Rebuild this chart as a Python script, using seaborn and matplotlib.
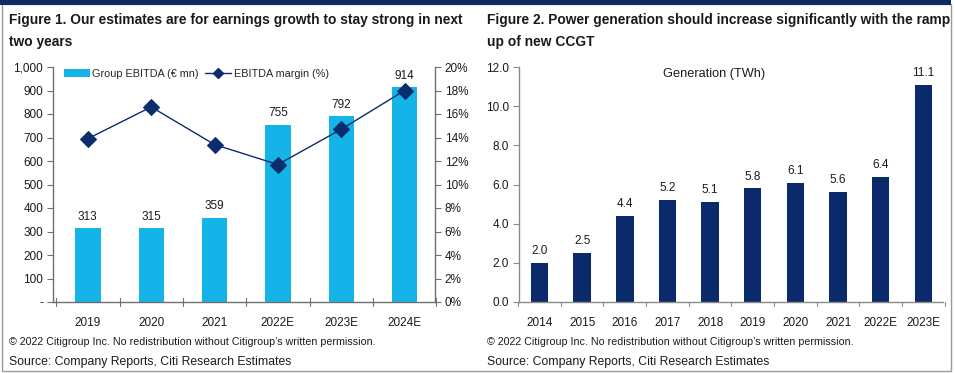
import numpy as np
import pandas as pd
import matplotlib
matplotlib.use("Agg")
import matplotlib.pyplot as plt
import seaborn as sns
from matplotlib.patches import Patch, Rectangle
from matplotlib.lines import Line2D
from matplotlib.ticker import FuncFormatter, MultipleLocator

# ---- data ----
ebitda_years = ["2019", "2020", "2021", "2022E", "2023E", "2024E"]
ebitda_values = [313, 315, 359, 755, 792, 914]
ebitda_margin = [13.9, 16.6, 13.4, 11.7, 14.7, 18.0]

gen_years = ["2014", "2015", "2016", "2017", "2018", "2019", "2020", "2021", "2022E", "2023E"]
gen_values = [2.0, 2.5, 4.4, 5.2, 5.1, 5.8, 6.1, 5.6, 6.4, 11.1]

title1 = "Figure 1. Our estimates are for earnings growth to stay strong in next\ntwo years"
title2 = "Figure 2. Power generation should increase significantly with the ramp\nup of new CCGT"
copyright_txt = "\u00a9 2022 Citigroup Inc. No redistribution without Citigroup\u2019s written permission."
source_txt = "Source: Company Reports, Citi Research Estimates"

sns.set_theme(style="white")
plt.rcParams["font.family"] = ["Liberation Sans", "DejaVu Sans"]

LIGHT = "#14b4e8"
NAVY = "#0b2d6e"
NAVY_BAR = "#0a2a6c"
SPINE = "#707070"
TXT = "#1a1a1a"

W, H = 955, 373
fig = plt.figure(figsize=(W / 100, H / 100), dpi=100)

def fx(px):
    return px / W

def fy(py):
    return 1 - py / H

# frame and top band
fig.patches.append(Rectangle((fx(2), fy(371)), fx(951) - fx(2), fy(4) - fy(371),
                             transform=fig.transFigure, fill=False, edgecolor="#9a9a9a", lw=1.0))
fig.patches.append(Rectangle((0, fy(4.5)), fx(951), fy(0) - fy(4.5),
                             transform=fig.transFigure, facecolor="#0c2b63", edgecolor="none"))

# ---------------- left panel ----------------
ax1 = fig.add_axes([fx(53), fy(302), fx(435) - fx(53), fy(67) - fy(302)])
df1 = pd.DataFrame({"year": ebitda_years, "ebitda": ebitda_values})
sns.barplot(data=df1, x="year", y="ebitda", ax=ax1, color=LIGHT, width=0.4,
            saturation=1, edgecolor="none")
ax1.set_ylim(0, 1000)
ax1.yaxis.set_major_locator(MultipleLocator(100))
ax1.yaxis.set_major_formatter(FuncFormatter(lambda v, p: "-" if v == 0 else f"{int(v):,}"))
for i, v in enumerate(ebitda_values):
    ax1.text(i, v + 22, f"{v}", ha="center", va="bottom", fontsize=8.5, color=TXT)

ax2 = ax1.twinx()
sns.pointplot(x=ebitda_years, y=ebitda_margin, ax=ax2, color=NAVY, markers="D",
              markersize=8.5, linewidth=1.0)
ax2.set_ylim(0, 20)
ax2.yaxis.set_major_locator(MultipleLocator(2))
ax2.yaxis.set_major_formatter(FuncFormatter(lambda v, p: f"{int(round(v))}%"))
ax1.set_xlim(-0.55, 5.48)
ax2.set_xlim(-0.55, 5.48)

for a in (ax1, ax2):
    a.set_xlabel("")
    a.set_ylabel("")
    for s in a.spines.values():
        s.set_visible(False)
ax1.spines["left"].set_visible(True)
ax1.spines["bottom"].set_visible(True)
ax2.spines["right"].set_visible(True)
for s in (ax1.spines["left"], ax1.spines["bottom"], ax2.spines["right"]):
    s.set_color(SPINE)
    s.set_linewidth(1.0)

ax1.tick_params(axis="y", left=True, length=4, width=0.8, color=SPINE, labelsize=8.5, labelcolor=TXT, pad=3)
ax2.tick_params(axis="y", right=True, length=4, width=0.8, color=SPINE, labelsize=8.5, labelcolor=TXT, pad=3)
ax1.set_xticks(range(len(ebitda_years)))
ax1.set_xticklabels(ebitda_years)
ax1.tick_params(axis="x", bottom=False, labelsize=8.5, labelcolor=TXT, pad=5)
for b in np.arange(-0.5, len(ebitda_years) + 0.5, 1.0):
    ax1.plot([b, b], [-0.018, 0.018], transform=ax1.get_xaxis_transform(), color=SPINE,
             lw=0.8, clip_on=False)

handles = [Patch(facecolor=LIGHT, edgecolor="none"),
           Line2D([], [], color=NAVY, marker="D", markersize=5.5, lw=1.0)]
leg = ax1.legend(handles, ["Group EBITDA (\u20ac mn)", "EBITDA margin (%)"], ncol=2,
                 loc="upper left", bbox_to_anchor=(0.018, 1.012), frameon=False,
                 fontsize=7.8, handlelength=2.4, handleheight=0.8, columnspacing=0.6,
                 handletextpad=0.2, borderaxespad=0)

fig.text(fx(9), fy(13), title1, ha="left", va="top", fontsize=9.9, fontweight="bold",
         color=TXT, linespacing=1.75)
fig.text(fx(9), fy(342), copyright_txt, ha="left", va="center", fontsize=7.7, color=TXT)
fig.text(fx(9), fy(362), source_txt, ha="left", va="center", fontsize=8.8, color=TXT)

# ---------------- right panel ----------------
ax3 = fig.add_axes([fx(519), fy(302), fx(943) - fx(519), fy(67) - fy(302)])
df2 = pd.DataFrame({"year": gen_years, "gen": gen_values})
sns.barplot(data=df2, x="year", y="gen", ax=ax3, color=NAVY_BAR, width=0.41,
            saturation=1, edgecolor="none")
ax3.set_ylim(0, 12)
ax3.set_xlim(-0.48, 9.46)
ax3.yaxis.set_major_locator(MultipleLocator(2))
ax3.yaxis.set_major_formatter(FuncFormatter(lambda v, p: f"{v:.1f}"))
for i, v in enumerate(gen_values):
    ax3.text(i, v + 0.3, f"{v:.1f}", ha="center", va="bottom", fontsize=8.5, color=TXT)
ax3.set_xlabel("")
ax3.set_ylabel("")
for k, s in ax3.spines.items():
    s.set_visible(k in ("left", "bottom"))
    s.set_color("#8a8a8a")
    s.set_linewidth(1.0)
ax3.tick_params(axis="y", left=True, length=4, width=0.8, color="#8a8a8a", labelsize=8.5, labelcolor=TXT, pad=3)
ax3.tick_params(axis="x", bottom=False, labelsize=8.5, labelcolor=TXT, pad=5)
for b in np.arange(-0.5, len(gen_years) + 0.5, 1.0):
    ax3.plot([b, b], [-0.018, 0.0], transform=ax3.get_xaxis_transform(), color="#8a8a8a",
             lw=0.8, clip_on=False)
ax3.text(0.46, 0.97, "Generation (TWh)", transform=ax3.transAxes, ha="center", va="center",
         fontsize=9.2, color=TXT)

fig.text(fx(487), fy(13), title2, ha="left", va="top", fontsize=9.9, fontweight="bold",
         color=TXT, linespacing=1.75)
fig.text(fx(487), fy(342), copyright_txt, ha="left", va="center", fontsize=7.7, color=TXT)
fig.text(fx(487), fy(362), source_txt, ha="left", va="center", fontsize=8.8, color=TXT)

fig.savefig("out.png", dpi=100, facecolor="white")
